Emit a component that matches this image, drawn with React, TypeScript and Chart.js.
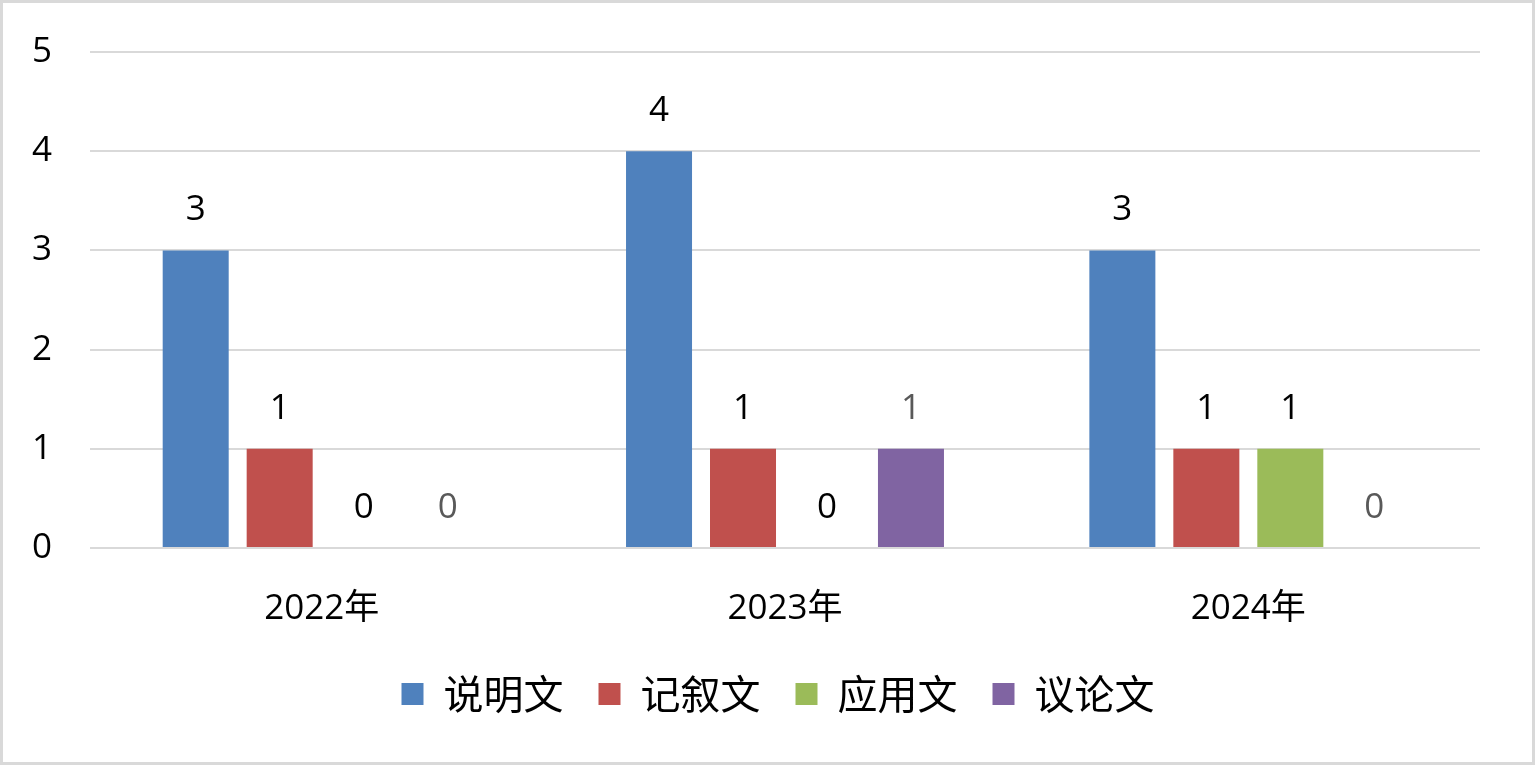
import React, { useEffect, useRef } from "react";
import { Chart, registerables } from "chart.js";

Chart.register(...registerables);

const categories = ["2022年", "2023年", "2024年"];
const seriesNames = ["说明文", "记叙文", "应用文", "议论文"];
const shuoming = [3, 4, 3];
const jixu = [1, 1, 1];
const yingyong = [0, 0, 1];
const yilun = [0, 1, 0];
const seriesColors = ["#4f81bd", "#c0504d", "#9bbb59", "#8064a2"];
const labelColors = ["#000000", "#000000", "#000000", "#595959"];
const yTicks = [0, 1, 2, 3, 4, 5];

const NUM_FONT = "'Open Sans', 'Noto Sans CJK SC', sans-serif";
const CJK_FONT = "'Noto Sans CJK SC', sans-serif";

const dataLabelPlugin = {
  id: "dataLabels",
  afterLayout(chart: any) {
    const lg = chart.legend;
    if (lg) {
      lg.left += 38;
      lg.right += 38;
    }
  },
  afterDatasetsDraw(chart: any) {
    const ctx = chart.ctx;
    ctx.save();
    ctx.font = `35px ${NUM_FONT}`;
    ctx.textAlign = "center";
    ctx.textBaseline = "middle";
    chart.data.datasets.forEach((ds: any, di: number) => {
      const meta = chart.getDatasetMeta(di);
      meta.data.forEach((el: any, i: number) => {
        ctx.fillStyle = labelColors[di];
        ctx.fillText(String(ds.data[i]), el.x, el.y - 40);
      });
    });
    ctx.restore();
  },
};

export default function App() {
  const ref = useRef<HTMLCanvasElement>(null);
  useEffect(() => {
    document.body.style.margin = "0";
    const allData = [shuoming, jixu, yingyong, yilun];
    const chart = new Chart(ref.current!, {
      type: "bar",
      data: {
        labels: categories,
        datasets: seriesNames.map((name, i) => ({
          label: name,
          data: allData[i],
          backgroundColor: seriesColors[i],
          borderWidth: 0,
          categoryPercentage: 0.725,
          barPercentage: 0.786,
        })),
      },
      options: {
        responsive: false,
        animation: false,
        devicePixelRatio: 1,
        layout: { padding: { top: 46, right: 55, left: 0, bottom: 41 } },
        plugins: {
          tooltip: { enabled: false },
          legend: {
            position: "bottom",
            labels: {
              boxWidth: 22,
              boxHeight: 22,
              padding: 35,
              color: "#000",
              font: { family: CJK_FONT, size: 40 },
            },
          },
        },
        scales: {
          x: {
            grid: { display: false, drawTicks: false },
            border: { display: false },
            ticks: {
              padding: 40,
              color: "#000",
              font: { family: NUM_FONT, size: 35 },
            },
            afterFit: (s: any) => {
              s.height = 91;
            },
          },
          y: {
            min: 0,
            max: 5,
            afterBuildTicks: (s: any) => {
              s.ticks = yTicks.map((v) => ({ value: v }));
            },
            grid: { color: "#d9d9d9", lineWidth: 2, drawTicks: false },
            border: { display: false },
            ticks: {
              padding: 38,
              color: "#000",
              font: { family: NUM_FONT, size: 35, lineHeight: 0.8 },
            },
            afterFit: (s: any) => {
              s.width = 90;
            },
          },
        },
      },
      plugins: [dataLabelPlugin],
    });
    return () => chart.destroy();
  }, []);
  return (
    <div style={{ position: "relative", width: 1535, height: 765, background: "#fff" }}>
      <div
        style={{
          position: "absolute",
          inset: 0,
          border: "3px solid #d9d9d9",
          boxSizing: "border-box",
        }}
      />
      <canvas
        ref={ref}
        width={1535}
        height={765}
        style={{ position: "absolute", left: 0, top: 0, width: 1535, height: 765 }}
      />
    </div>
  );
}
